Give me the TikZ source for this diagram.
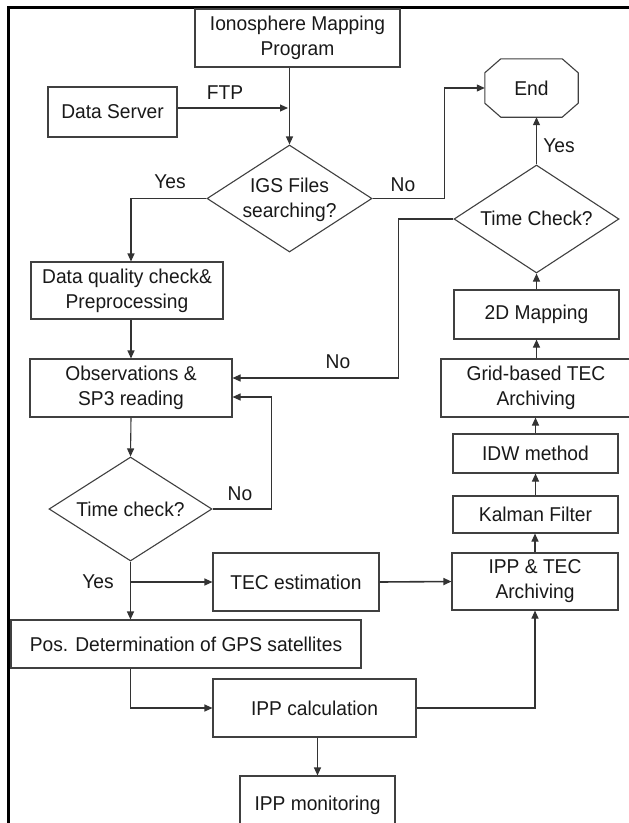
\documentclass[tikz,border=0pt]{standalone}
\usepackage{fontspec}
\setmainfont{Liberation Sans}[FakeStretch=0.96]
\usetikzlibrary{arrows.meta,shapes.geometric,calc}
\begin{document}
\begin{tikzpicture}[x=1pt,y=-1pt,
  lbl/.style={inner sep=0pt, align=center, text=black!90, font=\fontsize{20}{25}\selectfont},
  box/.style={lbl, draw=black!75, line width=1.1pt, rectangle},
  plain/.style={lbl, rectangle},
  decision/.style={draw=black!75, line width=1.1pt, diamond, inner sep=0pt},
  ln/.style={draw=black!80, line width=1.1pt},
  arr/.style={ln, -{Triangle[length=8pt,width=7pt]}},
]
\useasboundingbox (0,0) rectangle (629,823);
\clip (0,0) rectangle (629,823);
\fill[white] (0,0) rectangle (629,823);
% frame
\draw[line width=3pt] (8,840) -- (8,7) -- (650,7);

% nodes
\node[box, minimum width=205pt, minimum height=58pt] (iono) at (297.5,38) {Ionosphere Mapping\\Program};
\node[box, minimum width=129pt, minimum height=50pt] (server) at (112.5,112) {Data Server};
\node[decision, minimum width=165pt, minimum height=107pt] (igs) at (289.5,198.5) {};
\node[lbl] (igst) at (289.5,200) {IGS Files\\searching?};
\node[plain, minimum width=93pt, minimum height=58pt] (end) at (531.5,88) {End};
\draw[ln, draw=black!75]
  ($(end.north west)+(16pt,0pt)$) -- ($(end.north east)+(-16pt,0pt)$)
  -- ($(end.north east)+(0pt,-14pt)$) -- ($(end.south east)+(0pt,14pt)$)
  -- ($(end.south east)+(-16pt,0pt)$) -- ($(end.south west)+(16pt,0pt)$)
  -- ($(end.south west)+(0pt,14pt)$) -- ($(end.north west)+(0pt,-14pt)$) -- cycle;
\node[decision, minimum width=165pt, minimum height=108pt] (tc) at (536.5,219) {};
\node[lbl] (tct) at (536.5,218) {Time Check?};
\node[box, minimum width=192pt, minimum height=57pt] (dq) at (127,290.5) {Data quality check\&\\Preprocessing};
\node[box, minimum width=165pt, minimum height=49pt] (map) at (536.5,314.5) {2D Mapping};
\node[box, minimum width=202pt, minimum height=58pt] (obs) at (131,388) {Observations \&\\SP3 reading};
\node[box, minimum width=190pt, minimum height=58pt] (grid) at (536,388) {Grid-based TEC\\Archiving};
\node[box, minimum width=165pt, minimum height=39pt] (idw) at (535.5,453.5) {IDW method};
\node[box, minimum width=165pt, minimum height=37pt] (kal) at (535.5,514.5) {Kalman Filter};
\node[decision, minimum width=163pt, minimum height=104pt] (tc2) at (130.5,509) {};
\node[lbl] (tc2t) at (130.5,509) {Time check?};
\node[box, minimum width=166pt, minimum height=58pt] (tec) at (296,582) {TEC estimation};
\node[box, minimum width=166pt, minimum height=57pt] (ipptec) at (535,581.5) {IPP \& TEC\\Archiving};
\node[box, minimum width=350pt, minimum height=48pt] (pos) at (186,644) {Pos. Determination of GPS satellites};
\node[box, minimum width=203pt, minimum height=58pt] (ippc) at (314.5,708) {IPP calculation};
\node[box, minimum width=155pt, minimum height=58pt] (ippm) at (317.5,805) {IPP monitoring};

% labels
\node[lbl] (ftp) at (225,93) {FTP};
\node[lbl] (yes1) at (170,182) {Yes};
\node[lbl] (no1) at (403,185) {No};
\node[lbl] (yes2) at (559,146) {Yes};
\node[lbl] (no2) at (338,362) {No};
\node[lbl] (no3) at (240,494) {No};
\node[lbl] (yes3) at (98,582) {Yes};

% connectors
\coordinate (j1) at (288,108);
\draw[arr] (j1 -| server.east) -- (j1);
\draw[arr] (igs.north |- iono.south) -- (igs.north);
\draw[arr] (igs.west) -| ([xshift=4pt]dq.north);
\draw[arr] (igs.east) -- ++(72,0) |- (end.west);
\draw[arr] (tc.north) -- (tc.north |- end.south);
\draw[arr] (tc.west) -- ++(-55,0) |- ([yshift=10pt]obs.east);
\draw[arr] (tc2.east) -- ++(59,0) |- ([yshift=-9pt]obs.east);
\draw[arr] (obs.north |- dq.south) -- (obs.north);
\draw[arr] (obs.south) -- (tc2.north);
\draw[arr] (tc2.south) -- (tc2.south |- pos.north);
\draw[arr] (tc2.south |- tec.west) -- (tec.west);
\draw[arr, line width=1.6pt] (tec.east) -- (ipptec.west);
\draw[arr] (pos.south -| tc2.south) |- (ippc.west);
\draw[arr] (ippc.east) -| (ipptec.south);
\draw[arr] (ippm.north |- ippc.south) -- (ippm.north);
\draw[arr] (ipptec.north) -- (ipptec.north |- kal.south);
\draw[arr] (kal.north) -- (kal.north |- idw.south);
\draw[arr] (idw.north) -- (idw.north |- grid.south);
\draw[arr] (map.south |- grid.north) -- (map.south);
\draw[arr] (map.north) -- (map.north |- tc.south);
\end{tikzpicture}
\end{document}
